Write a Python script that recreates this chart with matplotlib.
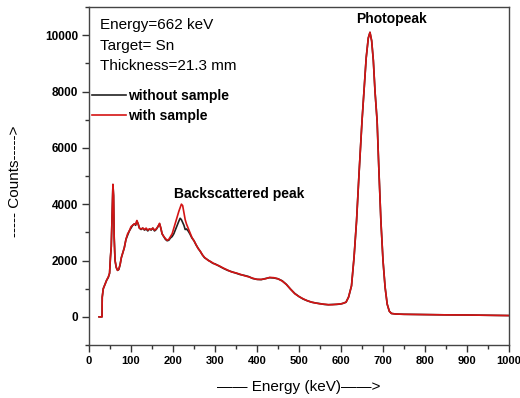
import matplotlib
matplotlib.use("Agg")
import matplotlib.pyplot as plt
from matplotlib.ticker import MultipleLocator

plt.rcParams['font.family'] = ['Liberation Sans', 'DejaVu Sans']

energy = [24, 31, 31.5, 34, 38, 42, 46, 49, 51, 53, 55, 57, 58.5, 60, 62, 65, 68, 71, 74, 77,
          80, 84, 88, 92, 96, 100, 104, 108, 111, 114, 117, 120, 124, 128, 132, 136, 140, 144,
          148, 152, 156, 160, 164, 168, 171, 174, 178, 182, 186, 190, 194, 198, 202, 206, 210,
          214, 217, 220, 223, 226, 229, 232, 236, 240, 245, 250, 255, 260, 265, 270, 275, 280,
          285, 290, 295, 300, 310, 320, 330, 340, 350, 360, 370, 380, 390, 400, 410, 420, 430,
          440, 450, 460, 470, 480, 490, 500, 510, 520, 530, 540, 550, 560, 570, 580, 590, 600,
          605, 612, 618, 625, 631, 637, 643, 650, 655, 660, 665, 669, 673, 677, 681, 686, 690,
          695, 700, 705, 710, 715, 720, 730, 750, 800, 850, 900, 950, 1000]

without_sample = [0, 0, 700, 1000, 1150, 1300, 1400, 1550, 2100, 2500, 3600, 4700, 4300, 2800, 2000,
                  1750, 1650, 1680, 1850, 2100, 2250, 2450, 2750, 2900, 3050, 3150, 3250, 3300, 3250,
                  3400, 3300, 3150, 3100, 3150, 3080, 3120, 3050, 3120, 3080, 3150, 3050, 3100, 3200,
                  3300, 3150, 2950, 2850, 2750, 2700, 2720, 2800, 2850, 2950, 3100, 3250, 3400, 3500,
                  3450, 3350, 3250, 3100, 3120, 3050, 2950, 2800, 2700, 2550, 2430, 2320, 2200, 2100,
                  2050, 2000, 1950, 1900, 1880, 1800, 1720, 1650, 1600, 1550, 1500, 1470, 1430, 1360,
                  1330, 1320, 1360, 1390, 1380, 1350, 1280, 1150, 980, 830, 720, 630, 570, 520, 490,
                  470, 440, 430, 440, 440, 460, 480, 520, 700, 1100, 2100, 3400, 5100, 6950, 8100,
                  9200, 9900, 10100, 9800, 9100, 8000, 6950, 5300, 3400, 2000, 1050, 450, 200, 120,
                  100, 90, 80, 70, 65, 55, 45]

with_sample = [0, 0, 700, 1000, 1150, 1300, 1420, 1550, 2100, 2500, 3600, 4700, 4300, 2800, 2000,
               1750, 1650, 1700, 1850, 2100, 2250, 2450, 2750, 2950, 3050, 3200, 3250, 3300, 3280,
               3420, 3300, 3150, 3120, 3150, 3100, 3150, 3080, 3120, 3100, 3150, 3080, 3120, 3200,
               3320, 3150, 2950, 2850, 2780, 2720, 2750, 2850, 2950, 3150, 3350, 3550, 3750, 3880,
               4000, 3950, 3700, 3450, 3300, 3150, 3000, 2820, 2700, 2560, 2420, 2330, 2200, 2110,
               2050, 1990, 1960, 1910, 1870, 1810, 1730, 1660, 1590, 1560, 1510, 1460, 1420, 1370,
               1330, 1330, 1350, 1400, 1390, 1350, 1270, 1150, 980, 820, 720, 640, 570, 520, 490,
               460, 450, 430, 430, 450, 460, 480, 520, 700, 1100, 2100, 3400, 5100, 6950, 8100,
               9200, 9900, 10100, 9800, 9100, 8000, 6950, 5300, 3400, 2000, 1050, 450, 200, 120,
               100, 90, 80, 70, 65, 55, 45]

info_lines = ["Energy=662 keV", "Target= Sn", "Thickness=21.3 mm"]

fig = plt.figure(figsize=(5.2, 3.98), dpi=100)
ax = fig.add_axes([89/520, 1-345/398, 420/520, 338/398])

l1, = ax.plot(energy, without_sample, color='#222222', lw=1.2, label='without sample')
l2, = ax.plot(energy, with_sample, color='#d41414', lw=1.2, label='with sample')

ax.set_xlim(0, 1000)
ax.set_ylim(-1000, 11000)
ax.xaxis.set_major_locator(MultipleLocator(100))
ax.xaxis.set_minor_locator(MultipleLocator(50))
ax.yaxis.set_minor_locator(MultipleLocator(1000))
ax.set_yticks([0, 2000, 4000, 6000, 8000, 10000])
ax.tick_params(which='major', direction='out', length=5, width=1, colors='#333333',
               labelsize=8.5, pad=3, labelcolor='black')
ax.tick_params(axis='x', which='major', labelsize=8)
ax.tick_params(which='minor', direction='out', length=3, width=1, colors='#333333')
for lab in ax.get_xticklabels() + ax.get_yticklabels():
    lab.set_fontweight('bold')
for sp in ax.spines.values():
    sp.set_color('#444444')
    sp.set_linewidth(1.0)

ys = [10350, 9620, 8900]
for t, yv in zip(info_lines, ys):
    ax.text(25, yv, t, fontsize=11, va='center', ha='left')

ax.legend(handles=[l1, l2], loc='upper left', bbox_to_anchor=(0.008, 0.757), frameon=False,
          borderpad=0, borderaxespad=0, handlelength=2.4, handletextpad=0.15,
          labelspacing=0.42, prop={'size': 10, 'weight': 'bold'})

ax.text(721, 10560, "Photopeak", fontsize=10, fontweight='bold', ha='center', va='center')
ax.text(358, 4360, "Backscattered peak", fontsize=10, fontweight='bold', ha='center', va='center')

fig.text(15/520, 1-181/398, "----- Counts----->", rotation=90, fontsize=11, ha='center', va='center')
fig.text(299/520, 1-387/398, "\u2014\u2014 Energy (keV)\u2014\u2014>", fontsize=11, ha='center', va='center')

fig.savefig("out.png", dpi=100)
